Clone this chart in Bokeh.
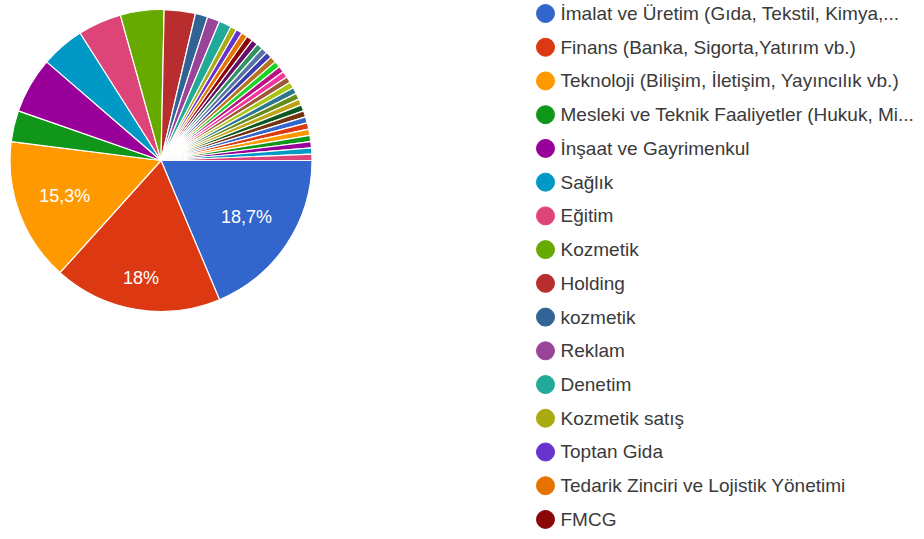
import numpy as np
from bokeh.plotting import figure
from bokeh.models import Range1d, ColumnDataSource
from bokeh.core.properties import value
from bokeh.embed import file_html
from bokeh.resources import INLINE

# Responses per sector (150 answers in total); the legend shows only the first 16 entries
legend_labels = [
    "İmalat ve Üretim (Gıda, Tekstil, Kimya,...",
    "Finans (Banka, Sigorta,Yatırım vb.)",
    "Teknoloji (Bilişim, İletişim, Yayıncılık vb.)",
    "Mesleki ve Teknik Faaliyetler (Hukuk, Mi...",
    "İnşaat ve Gayrimenkul",
    "Sağlık",
    "Eğitim",
    "Kozmetik",
    "Holding",
    "kozmetik",
    "Reklam",
    "Denetim",
    "Kozmetik satış",
    "Toptan Gida",
    "Tedarik Zinciri ve Lojistik Yönetimi",
    "FMCG",
]
counts = [28, 27, 23, 5, 9, 7, 7, 7, 5, 2, 2, 2,
          1, 1, 1, 1, 1, 1, 1, 1, 1, 1, 1, 1, 1,
          1, 1, 1, 1, 1, 1, 1, 1, 1, 1, 1, 1, 1]

palette = ["#3366cc", "#dc3912", "#ff9900", "#109618", "#990099", "#0099c6",
           "#dd4477", "#66aa00", "#b82e2e", "#316395", "#994499", "#22aa99",
           "#aaaa11", "#6633cc", "#e67300", "#8b0707", "#651067", "#329262",
           "#5574a6", "#3b3eac", "#b77322", "#16d620", "#b91383", "#f4359e",
           "#9c5935", "#a9c413", "#2a778d", "#668d1c", "#bea413", "#0c5922",
           "#743411"]

# ---- layout (picture pixel coordinates, y negated) ----
W, H = 916, 531
cx, cy, R = 160.5, -160.0, 151.0

p = figure(width=W, height=H, output_backend="svg", toolbar_location=None,
           x_range=Range1d(0, W), y_range=Range1d(-H, 0),
           min_border=0, background_fill_color="white")
p.axis.visible = False
p.grid.visible = False
p.outline_line_color = None

vals = np.array(counts, dtype=float)
total = vals.sum()
frac = vals / total
cum = np.concatenate([[0.0], np.cumsum(frac)]) * 2 * np.pi
a0, a1 = cum[:-1], cum[1:]          # clockwise angles from east
colors = [palette[i % len(palette)] for i in range(len(vals))]

src = ColumnDataSource(dict(start=-a1, end=-a0, color=colors))
p.wedge(x=cx, y=cy, radius=R, start_angle="start", end_angle="end",
        fill_color="color", line_color="white", line_width=1.2,
        direction="anticlock", source=src)

# percent labels on the three biggest slices
def fmt(f):
    s = f"{f*100:.1f}"
    if s.endswith(".0"):
        s = s[:-2]
    return s.replace(".", ",") + "%"

lab_r = [0.68, 0.79, 0.68]
lx, ly, lt = [], [], []
for i, rr in enumerate(lab_r):
    mid = (a0[i] + a1[i]) / 2
    lx.append(cx + rr * R * np.cos(-mid))
    ly.append(cy + rr * R * np.sin(-mid))
    lt.append(fmt(frac[i]))
p.text(x=lx, y=ly, text=lt, text_color="white", text_align="center",
       text_baseline="middle", text_font=value("Liberation Sans"),
       text_font_size=value("18px"))

# legend
n = len(legend_labels)
ys = [-(13 + 33.73 * i) for i in range(n)]
p.scatter(x=[545] * n, y=ys, size=18, marker="circle",
          fill_color=colors[:n], line_color=colors[:n])
p.text(x=[560] * n, y=ys, text=legend_labels, text_color="#3a3a3a",
       text_align="left", text_baseline="middle",
       text_font=value("Liberation Sans"), text_font_size=value("19px"))

open("out.html", "w").write(file_html(p, INLINE))
